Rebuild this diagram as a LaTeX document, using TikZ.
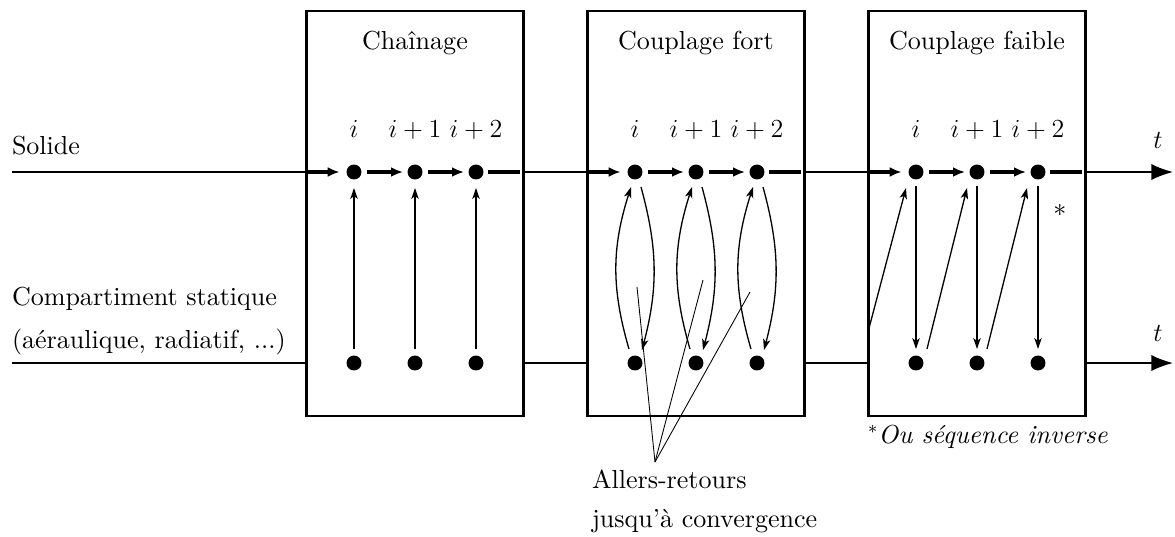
\documentclass[tikz,border=0pt]{standalone}
\usepackage{fontspec}
\setmainfont{lmroman10-regular.otf}[ItalicFont=lmroman10-italic.otf, BoldFont=lmroman10-bold.otf]
\usetikzlibrary{arrows.meta,calc}
\begin{document}
\begin{tikzpicture}[x=0.4608pt,y=-0.4608pt,
  every node/.style={font=\fontsize{12}{14.4}\selectfont, inner sep=0pt, outer sep=0pt},
  box/.style={draw, line width=1.2pt, minimum width=100pt, minimum height=186.6pt},
  dot/.style={circle, fill=black, minimum size=6.9pt},
  flow/.style={line width=0.8pt},
  fatarrow/.style={line width=1.8pt, -{Latex[length=5.5pt,width=4.6pt]}},
  fatline/.style={line width=1.8pt},
  slimarrow/.style={line width=0.6pt, -{Stealth[length=5pt,width=3.4pt,inset=1.3pt]}},
  bigtip/.style={line width=0.8pt, -{Latex[length=10pt,width=7.5pt]}},
  leader/.style={line width=0.4pt}
]
\useasboundingbox (0,0) rectangle (1175,536);

% boxes
\node[box] (B1) at (415,213.5) {};
\node[box] (B2) at (696,213.5) {};
\node[box] (B3) at (977,213.5) {};

% headers
\node[anchor=base] (H1) at (415,49) {Chaînage};
\node[anchor=base] (H2) at (696,49) {Couplage fort};
\node[anchor=base] (H3) at (977,49) {Couplage faible};

% dots
\foreach \b/\c in {1/415,2/696,3/977}{
  \node[dot] (T\b1) at (\c-61,172) {};
  \node[dot] (T\b2) at (\c,172) {};
  \node[dot] (T\b3) at (\c+61,172) {};
  \node[dot] (D\b1) at (\c-61,363) {};
  \node[dot] (D\b2) at (\c,363) {};
  \node[dot] (D\b3) at (\c+61,363) {};
  \node[anchor=base] (Li\b) at (\c-61,137) {$i$};
  \node[anchor=base] (Lj\b) at (\c,137) {$i+1$};
  \node[anchor=base] (Lk\b) at (\c+61,137) {$i+2$};
}

% left labels and lines
\coordinate (S0) at (12,172);
\coordinate (C0) at (12,363);
\coordinate (SE) at (1173,172);
\coordinate (CE) at (1173,363);
\node[anchor=base west] (Lsol) at (12,154) {Solide};
\node[anchor=base west] (Lcomp1) at (12,305) {Compartiment statique};
\node[anchor=base west] (Lcomp2) at (12,348) {(aéraulique, radiatif, ...)};

\draw[flow] (S0) -- (S0 -| B1.west);
\draw[flow] (S0 -| B1.east) -- (S0 -| B2.west);
\draw[flow] (S0 -| B2.east) -- (S0 -| B3.west);
\draw[bigtip] (S0 -| B3.east) -- (SE);
\draw[flow] (C0) -- (C0 -| B1.west);
\draw[flow] (C0 -| B1.east) -- (C0 -| B2.west);
\draw[flow] (C0 -| B2.east) -- (C0 -| B3.west);
\draw[bigtip] (C0 -| B3.east) -- (CE);

\node (Lt1) at (1158,140) {$t$};
\node (Lt2) at (1158,333) {$t$};

% thick chains in boxes
\foreach \b in {1,2,3}{
  \draw[fatarrow, shorten >=3.2pt] (S0 -| B\b.west) -- (T\b1);
  \draw[fatarrow, shorten <=2.5pt, shorten >=2.1pt] (T\b1) -- (T\b2);
  \draw[fatarrow, shorten <=2.5pt, shorten >=2.1pt] (T\b2) -- (T\b3);
  \draw[fatline, shorten <=2.3pt, shorten >=1.6pt] (T\b3) -- (S0 -| B\b.east);
}

% Chainage: vertical arrows
\foreach \k in {1,2,3}{
  \draw[slimarrow] ([shift={(0,-14)}]D1\k.center) -- ([shift={(0,16)}]T1\k.center);
}

% Couplage fort: round trips
\foreach \k in {1,2,3}{
  \draw[slimarrow] ([shift={(-6,-14)}]D2\k.center) to[bend left=17] ([shift={(-4,15)}]T2\k.center);
  \draw[slimarrow] ([shift={(6,15)}]T2\k.center) to[bend left=15] ([shift={(7,-13)}]D2\k.center);
}

% Couplage faible
\coordinate (E3) at (868,332);
\draw[slimarrow] (E3) -- ([shift={(-10,16)}]T31.center);
\draw[slimarrow] ([shift={(11,-14)}]D31.center) -- ([shift={(-10,16)}]T32.center);
\draw[slimarrow] ([shift={(10,-14)}]D32.center) -- ([shift={(-11,16)}]T33.center);
\foreach \k in {1,2,3}{
  \draw[slimarrow] ([shift={(0,14)}]T3\k.center) -- ([shift={(0,-14)}]D3\k.center);
}
\node (Star) at (1060,210) {$*$};
\node[anchor=base west] (Note) at (868,443) {$^*$\textit{Ou séquence inverse}};

% leader lines
\coordinate (F) at (655,462);
\coordinate (F1) at (637,287);
\coordinate (F2) at (703,280);
\coordinate (F3) at (750,292);
\draw[leader] (F) -- (F1);
\draw[leader] (F) -- (F2);
\draw[leader] (F) -- (F3);
\node[anchor=base west] (A1) at (592,488) {Allers-retours};
\node[anchor=base west] (A2) at (592,527) {jusqu'à convergence};
\end{tikzpicture}
\end{document}
